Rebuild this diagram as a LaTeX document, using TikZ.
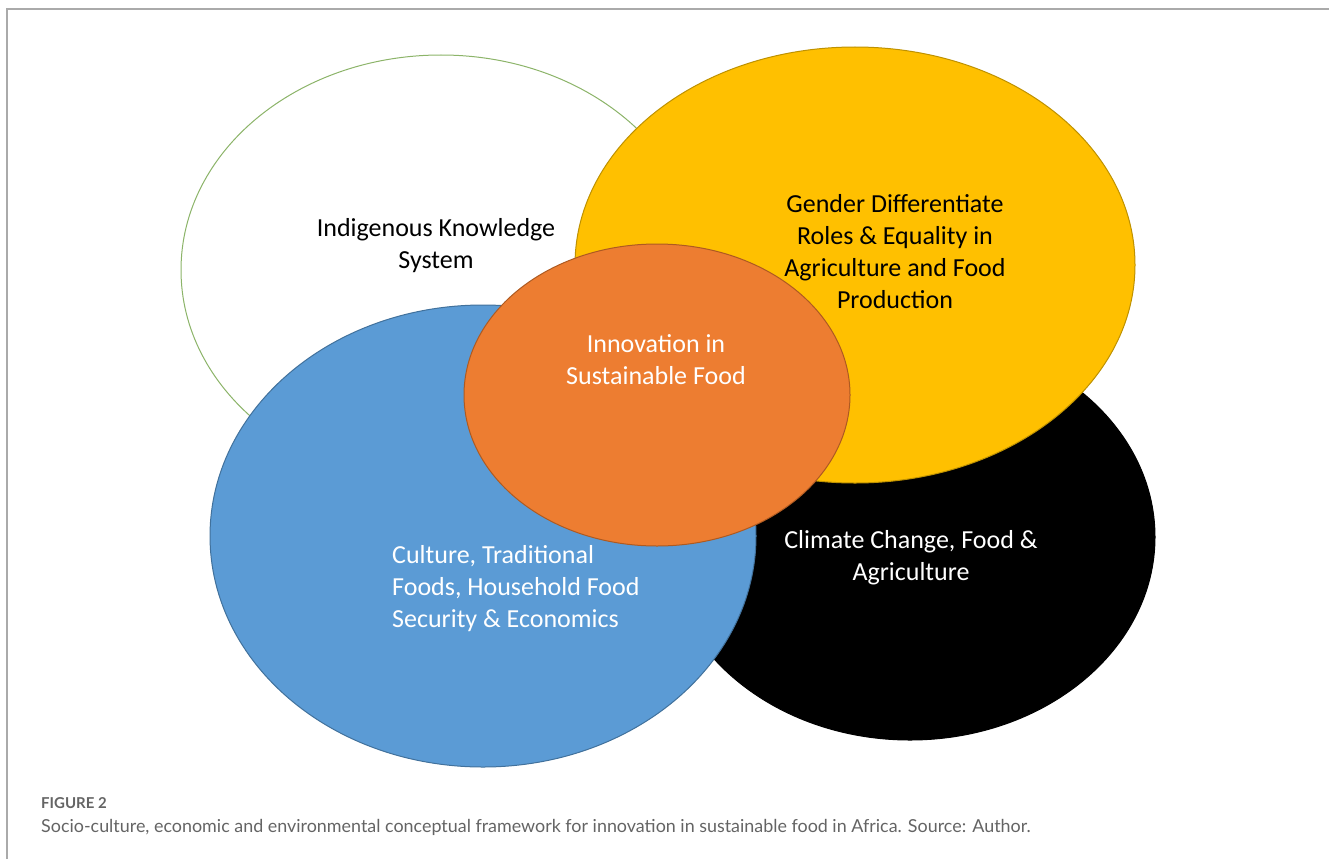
\documentclass[tikz,border=0pt]{standalone}
\usepackage{fontspec}
\setmainfont{Carlito}
\newfontfamily\capfont{Lato}
\usetikzlibrary{shapes.geometric}
\definecolor{framegray}{RGB}{170,170,170}
\definecolor{ikline}{RGB}{140,180,105}
\definecolor{gold}{RGB}{255,192,0}
\definecolor{goldline}{RGB}{190,145,0}
\definecolor{skyblue}{RGB}{91,155,213}
\definecolor{skyline}{RGB}{65,113,156}
\definecolor{tangerine}{RGB}{237,125,49}
\definecolor{tangline}{RGB}{174,90,33}
\definecolor{capgray}{RGB}{100,100,100}

\begin{document}
\begin{tikzpicture}[x=1pt,y=-1pt,
    blob/.style={ellipse,inner sep=0pt,outer sep=0pt,line width=1pt},
    lbl/.style={align=center,inner sep=0pt,font=\fontsize{26}{32}\selectfont}]
  \useasboundingbox (0,0) rectangle (1329,859);
  % frame of the figure box
  \draw[framegray,line width=1.5pt] (7,859) -- (7,9) -- (1329,9);
  % the five circles, back to front
  \node[blob,draw=ikline,fill=white,minimum width=520pt,minimum height=430pt] (iks) at (441,270) {};
  \node[blob,draw=black,fill=black,minimum width=490pt,minimum height=406pt] (clim) at (910,537) {};
  \node[blob,draw=goldline,fill=gold,minimum width=560pt,minimum height=436pt] (gend) at (855,265) {};
  \node[blob,draw=skyline,fill=skyblue,minimum width=546pt,minimum height=462pt] (cult) at (483,536) {};
  \node[blob,draw=tangline,fill=tangerine,minimum width=386pt,minimum height=302pt] (innov) at (657,395) {};
  % labels
  \node[lbl] (ikstxt) at (436,246) {Indigenous Knowledge\\System};
  \node[lbl] (gendtxt) at (895,252) {Gender Differentiate\\Roles \& Equality in\\Agriculture and Food\\Production};
  \node[lbl,text=white] (innovtxt) at (656,360) {Innovation in\\Sustainable Food};
  \node[lbl,text=white] (climtxt) at (911,558) {Climate Change, Food \&\\Agriculture};
  \node[lbl,text=white,align=left,anchor=west] (culttxt) at (392,589) {Culture, Traditional\\Foods, Household Food\\Security \& Economics};
  % caption
  \node[anchor=base west,inner sep=0pt,text=capgray,font=\capfont\bfseries\fontsize{15}{17}\selectfont] (fignum) at (41,808) {FIGURE 2};
  \node[anchor=base west,inner sep=0pt,text=capgray,font=\capfont\fontsize{17.9}{22}\selectfont] (figcap) at (41,832) {Socio-culture, economic and environmental conceptual framework for innovation in sustainable food in Africa. Source: Author.};
\end{tikzpicture}
\end{document}
